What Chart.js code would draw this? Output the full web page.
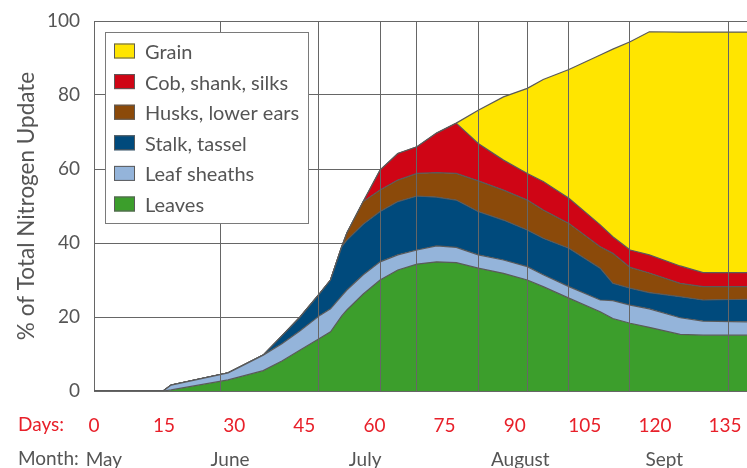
<!DOCTYPE html>
<html>
<head>
<meta charset="utf-8">
<script src="https://cdn.jsdelivr.net/npm/chart.js@4/dist/chart.umd.min.js"></script>
<style>
  body { margin: 0; background: #fff; }
  #wrap { width: 747px; height: 468px; }
</style>
</head>
<body>
<div id="wrap"><canvas id="nChart" width="747" height="468"></canvas></div>
<script>
// days after planting where the curves were read
let days = [0, 14.8, 16.5, 28.7, 36.2, 40.2, 44.1, 48.4, 50.6, 53, 54.1, 57.6, 61.2, 65, 69.1, 73.3,
  77.5, 82.2, 87.6, 92.7, 96.1, 101.6, 108.3, 111, 114.7, 118.8, 125.4, 130.3, 139.7];

// % of total N in each plant part
let leaves = [0, 0, 0.3, 3.0, 5.5, 8.1, 11.1, 14.3, 16.0, 20.3, 21.9, 26.2, 30.0, 32.7, 34.3, 34.9,
  34.7, 33.2, 31.8, 30.0, 28.2, 25.1, 21.4, 19.6, 18.3, 17.2, 15.3, 15.1, 15.1];
let leafSheaths = [0, 0, 1.3, 1.9, 4.2, 4.7, 5.2, 6.2, 6.2, 5.4, 5.4, 5.2, 4.9, 4.1, 3.8, 4.3,
  4.1, 3.6, 3.6, 3.6, 3.2, 3.1, 3.2, 4.8, 4.9, 5.0, 4.5, 3.8, 3.6];
let stalkTassel = [0, 0, 0, 0, 0, 2.1, 3.7, 6.0, 7.8, 13.3, 13.5, 13.7, 13.6, 14.4, 14.6, 13.2,
  12.8, 11.7, 10.8, 9.9, 9.9, 10.4, 8.6, 4.7, 4.6, 4.4, 5.7, 5.7, 6.1];
let husks = [0, 0, 0, 0, 0, 0, 0, 0, 0, 0, 1.9, 6.1, 5.8, 5.8, 6.1, 6.6,
  7.2, 8.3, 8.1, 8.1, 7.6, 6.7, 5.8, 8.1, 5.6, 5.3, 3.6, 3.6, 3.4];
let cob = [0, 0, 0, 0, 0, 0, 0, 0, 0, 0, 0, 0, 5.4, 7.2, 7.2, 10.7,
  13.6, 10.1, 8.1, 7.2, 7.7, 6.8, 5.9, 4.5, 4.7, 4.9, 4.7, 3.8, 3.8];
let grain = [0, 0, 0, 0, 0, 0, 0, 0, 0, 0, 0, 0, 0, 0, 0, 0,
  0, 9.0, 17.1, 23.0, 27.6, 34.8, 45.9, 50.7, 56.3, 60.3, 63.2, 65.0, 65.0];

// axis labels
let dayTicks = [0, 15, 30, 45, 60, 75, 90, 105, 120, 135];
let monthDays = [2.1, 29.1, 58, 91.2, 122];
let monthNames = ["May", "June", "July", "August", "Sept"];
let gridDays = [27.0, 48.1, 61.2, 69.1, 82.2, 92.7, 101.6, 114.5, 135.7];
let yTicks = [0, 20, 40, 60, 80, 100];

let FONT = "Lato, 'Open Sans', sans-serif";
let GREY = "#555555";
let LINE = "#666666";
let X_MAX = 139.7;

function series(label, values, color, fill) {
  return {
    label: label,
    data: values.map((v, i) => ({ x: days[i], y: v })),
    backgroundColor: color,
    borderColor: "#5a5a5a",
    borderWidth: 1.2,
    pointRadius: 0,
    tension: 0,
    fill: fill
  };
}

// no extra padding for the edge tick labels
function noPad(s) {
  s.paddingLeft = 0;
  s.paddingRight = 0;
  s.paddingTop = 0;
  s.paddingBottom = 0;
}

// legend box + "Days:" / "Month:" captions
let extras = {
  id: "extras",
  afterDraw(chart) {
    let ctx = chart.ctx;
    let area = chart.chartArea;
    ctx.save();

    let bx = area.left + 11, by = area.top + 11;
    ctx.fillStyle = "#fff";
    ctx.fillRect(bx, by, 203, 191);
    ctx.strokeStyle = "#7a7a7a";
    ctx.lineWidth = 1;
    ctx.strokeRect(bx + 0.5, by + 0.5, 203, 191);

    ctx.font = "20px " + FONT;
    ctx.textBaseline = "middle";
    let sets = chart.data.datasets.slice().reverse();
    sets.forEach((ds, i) => {
      let cy = by + 19 + i * 30.6;
      ctx.fillStyle = ds.backgroundColor;
      ctx.fillRect(bx + 9, cy - 7.5, 21, 15);
      ctx.strokeStyle = "#5a5a5a";
      ctx.strokeRect(bx + 9.5, cy - 7, 20, 14);
      ctx.fillStyle = GREY;
      ctx.textAlign = "left";
      ctx.fillText(ds.label, bx + 40, cy + 1.5);
    });

    ctx.font = "19px " + FONT;
    ctx.fillStyle = "#e8202a";
    ctx.fillText("Days:", 18, chart.scales.x.top + 34);
    ctx.fillStyle = GREY;
    ctx.fillText("Month:", 18, chart.scales.x2.top + 21);
    ctx.restore();
  }
};

new Chart(document.getElementById("nChart"), {
  type: "line",
  data: {
    datasets: [
      series("Leaves", leaves, "#3c9e2c", "origin"),
      series("Leaf sheaths", leafSheaths, "#94b4da", "-1"),
      series("Stalk, tassel", stalkTassel, "#004a7c", "-1"),
      series("Husks, lower ears", husks, "#8b4a0a", "-1"),
      series("Cob, shank, silks", cob, "#cf0515", "-1"),
      series("Grain", grain, "#ffe500", "-1")
    ]
  },
  options: {
    responsive: false,
    animation: false,
    layout: { padding: { top: 21, right: 0, bottom: 0, left: 0 } },
    plugins: { legend: { display: false }, tooltip: { enabled: false } },
    scales: {
      x: {
        type: "linear",
        min: 0,
        max: X_MAX,
        weight: 0,
        afterBuildTicks: s => { s.ticks = dayTicks.map(v => ({ value: v })); },
        afterFit: s => { s.height = 47; noPad(s); },
        grid: { display: false, drawTicks: false },
        border: { display: true, color: LINE },
        ticks: { color: "#e8202a", font: { family: FONT, size: 19 }, padding: 23,
          autoSkip: false, maxRotation: 0 }
      },
      x2: {
        type: "linear",
        position: "bottom",
        min: 0,
        max: X_MAX,
        weight: 1,
        afterBuildTicks: s => { s.ticks = monthDays.map(v => ({ value: v })); },
        afterFit: s => { s.height = 30; noPad(s); },
        grid: { display: false, drawTicks: false },
        border: { display: false },
        ticks: { color: GREY, font: { family: FONT, size: 19 }, padding: 10,
          autoSkip: false, maxRotation: 0,
          callback: (v, i) => monthNames[i] }
      },
      xGrid: {
        type: "linear",
        position: "top",
        display: true,
        min: 0,
        max: X_MAX,
        afterBuildTicks: s => { s.ticks = gridDays.map(v => ({ value: v })); },
        afterFit: s => { s.height = 0; noPad(s); },
        grid: { color: LINE, lineWidth: 1, drawTicks: false, z: 1 },
        border: { display: false },
        ticks: { display: false }
      },
      y: {
        stacked: true,
        min: 0,
        max: 100,
        afterBuildTicks: s => { s.ticks = yTicks.map(v => ({ value: v })); },
        afterFit: s => { s.width = 94; noPad(s); },
        grid: { color: LINE, lineWidth: 1, drawTicks: false },
        border: { display: true, color: LINE },
        ticks: { color: GREY, font: { family: FONT, size: 19 }, padding: 14 },
        title: { display: true, text: "% of Total Nitrogen Update", color: GREY,
          font: { family: FONT, size: 22.5 }, padding: { top: 13, bottom: 0 } }
      }
    }
  },
  plugins: [extras]
});
</script>
</body>
</html>
